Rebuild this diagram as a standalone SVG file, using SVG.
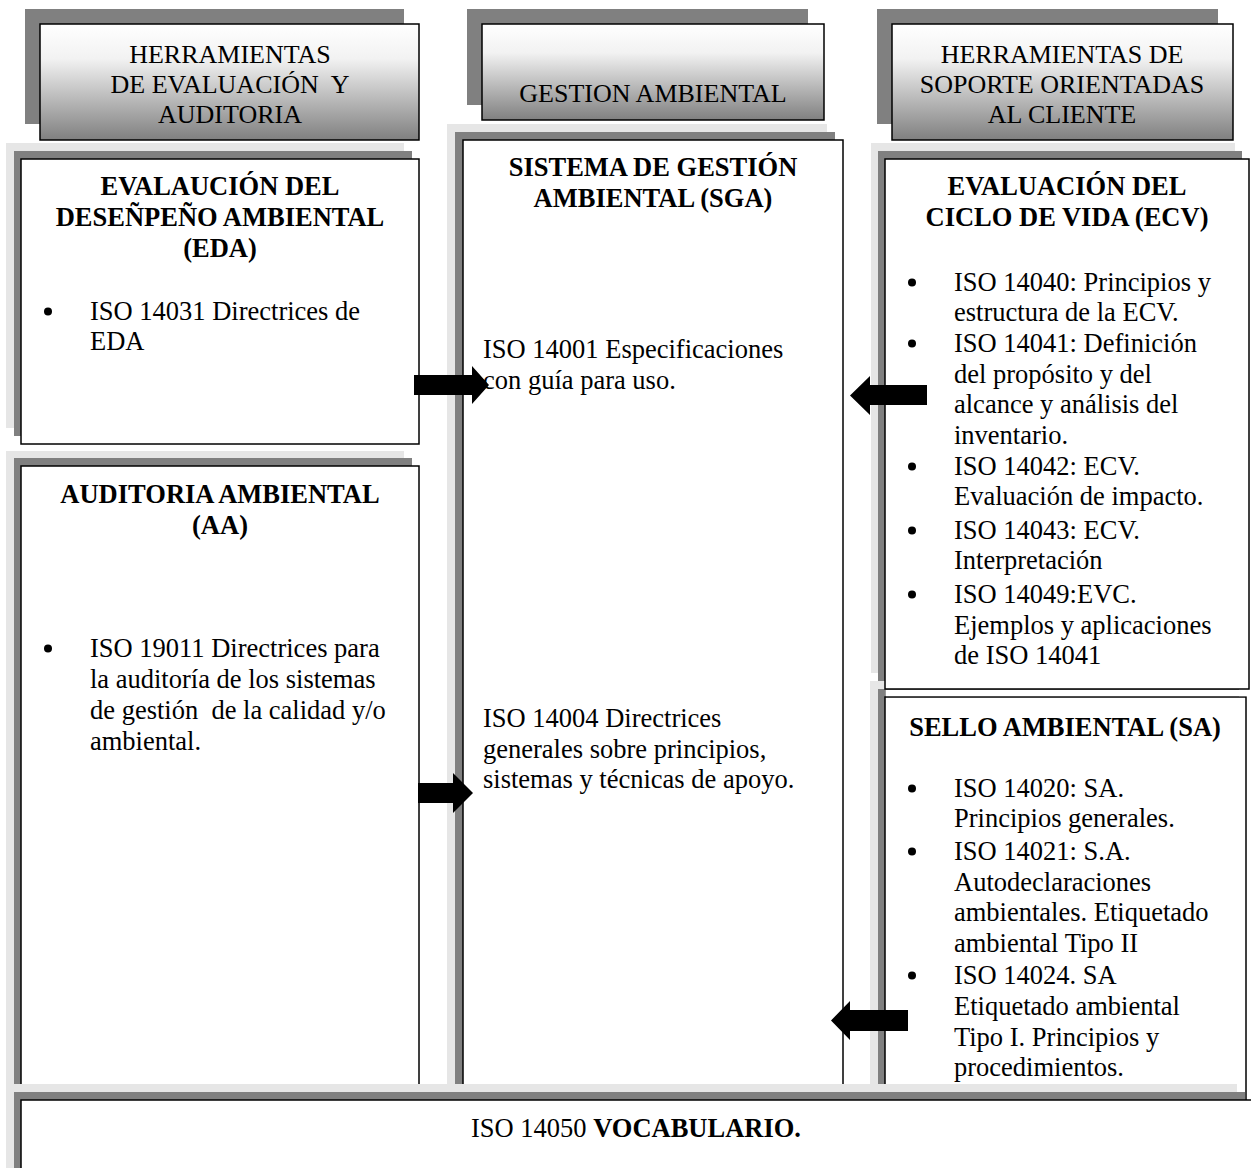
<svg xmlns="http://www.w3.org/2000/svg" width="1251" height="1168" viewBox="0 0 1251 1168">
  <defs>
    <linearGradient id="hdrGrad" x1="0" y1="0" x2="0" y2="1">
      <stop offset="0" stop-color="#ffffff"/>
      <stop offset="0.3" stop-color="#f2f2f2"/>
      <stop offset="1" stop-color="#808080"/>
    </linearGradient>
    <style>
      text { font-family: "Liberation Serif", "Times New Roman", serif; font-size: 26.5px; fill: #000; }
      .hdr text { font-size: 26px; }
      .c { text-anchor: middle; }
      .b { font-weight: bold; }
      .shadowDark { fill: #808080; }
      .shadowLight { fill: #e6e6e6; }
      .box { fill: #ffffff; stroke: #000; stroke-width: 1.5; }
      .hbox { fill: url(#hdrGrad); stroke: #000; stroke-width: 1.5; }
      .dot { fill: #000; }
      .arrow { fill: #000; }
    </style>
  </defs>
  <rect width="1251" height="1168" fill="#ffffff"/>

  <!-- Column headers -->
  <g id="hdr-evaluacion" class="hdr">
    <rect class="shadowDark" x="25" y="9" width="379" height="115"/>
    <rect class="hbox" x="40" y="24" width="379" height="116"/>
    <text class="c" x="230" y="63">HERRAMIENTAS</text>
    <text class="c" x="230" y="93" xml:space="preserve">DE EVALUACIÓN  Y</text>
    <text class="c" x="230" y="123">AUDITORIA</text>
  </g>
  <g id="hdr-gestion" class="hdr">
    <rect class="shadowDark" x="467" y="9" width="341" height="96"/>
    <rect class="hbox" x="482" y="24" width="342" height="96"/>
    <text class="c" x="653" y="102">GESTION AMBIENTAL</text>
  </g>
  <g id="hdr-soporte" class="hdr">
    <rect class="shadowDark" x="877" y="9" width="341" height="115"/>
    <rect class="hbox" x="892" y="24" width="341" height="116"/>
    <text class="c" x="1062" y="63">HERRAMIENTAS DE</text>
    <text class="c" x="1062" y="93">SOPORTE ORIENTADAS</text>
    <text class="c" x="1062" y="123">AL CLIENTE</text>
  </g>

  <!-- Evaluación del desempeño ambiental -->
  <g id="eda">
    <rect class="shadowLight" x="6" y="143" width="398" height="285"/>
    <rect class="shadowDark" x="14" y="151" width="398" height="285"/>
    <rect class="box" x="21" y="159" width="398" height="285"/>
    <text class="c b" x="220" y="195">EVALAUCIÓN DEL</text>
    <text class="c b" x="220" y="226">DESEÑPEÑO AMBIENTAL</text>
    <text class="c b" x="220" y="257">(EDA)</text>
    <circle class="dot" cx="48" cy="311.5" r="4"/>
    <text x="90" y="320">ISO 14031 Directrices de</text>
    <text x="90" y="350">EDA</text>
  </g>

  <!-- Auditoría ambiental -->
  <g id="aa">
    <rect class="shadowLight" x="6" y="451" width="398" height="640"/>
    <rect class="shadowDark" x="14" y="458" width="398" height="640"/>
    <rect class="box" x="21" y="466" width="398" height="640"/>
    <text class="c b" x="220" y="503">AUDITORIA AMBIENTAL</text>
    <text class="c b" x="220" y="534">(AA)</text>
    <circle class="dot" cx="48" cy="648.5" r="4"/>
    <text x="90" y="657">ISO 19011 Directrices para</text>
    <text x="90" y="688">la auditoría de los sistemas</text>
    <text x="90" y="719" xml:space="preserve">de gestión  de la calidad y/o</text>
    <text x="90" y="750">ambiental.</text>
  </g>

  <!-- Sistema de gestión ambiental -->
  <g id="sga">
    <rect class="shadowLight" x="447" y="124" width="380" height="980"/>
    <rect class="shadowDark" x="455" y="132" width="380" height="980"/>
    <rect class="box" x="463" y="140" width="380" height="980"/>
    <text class="c b" x="653" y="176">SISTEMA DE GESTIÓN</text>
    <text class="c b" x="653" y="207">AMBIENTAL (SGA)</text>
    <text x="483" y="358">ISO 14001 Especificaciones</text>
    <text x="483" y="389">con guía para uso.</text>
    <text x="483" y="727">ISO 14004 Directrices</text>
    <text x="483" y="758">generales sobre principios,</text>
    <text x="483" y="788">sistemas y técnicas de apoyo.</text>
  </g>

  <!-- Sello ambiental -->
  <g id="sa">
    <rect class="shadowLight" x="870" y="681" width="361" height="420"/>
    <rect class="shadowDark" x="878" y="689" width="361" height="420"/>
    <rect class="box" x="885" y="697" width="361" height="420"/>
    <text class="c b" x="1065" y="736">SELLO AMBIENTAL (SA)</text>
    <circle class="dot" cx="912" cy="788.5" r="4"/>
    <text x="954" y="797">ISO 14020: SA.</text>
    <text x="954" y="827">Principios generales.</text>
    <circle class="dot" cx="912" cy="851.5" r="4"/>
    <text x="954" y="860">ISO 14021: S.A.</text>
    <text x="954" y="891">Autodeclaraciones</text>
    <text x="954" y="921">ambientales. Etiquetado</text>
    <text x="954" y="952">ambiental Tipo II</text>
    <circle class="dot" cx="912" cy="975.5" r="4"/>
    <text x="954" y="984">ISO 14024. SA</text>
    <text x="954" y="1015">Etiquetado ambiental</text>
    <text x="954" y="1046">Tipo I. Principios y</text>
    <text x="954" y="1076">procedimientos.</text>
  </g>

  <!-- Evaluación del ciclo de vida -->
  <g id="ecv">
    <rect class="shadowLight" x="871" y="143" width="364" height="530"/>
    <rect class="shadowDark" x="878" y="151" width="364" height="530"/>
    <!-- white gap between this box and the seal box below -->
    <rect x="885.8" y="689.8" width="365" height="6.4" fill="#ffffff"/>
    <rect class="box" x="885" y="159" width="364" height="530"/>
    <text class="c b" x="1067" y="195">EVALUACIÓN DEL</text>
    <text class="c b" x="1067" y="226">CICLO DE VIDA (ECV)</text>
    <circle class="dot" cx="912" cy="282.5" r="4"/>
    <text x="954" y="291">ISO 14040: Principios y</text>
    <text x="954" y="321">estructura de la ECV.</text>
    <circle class="dot" cx="912" cy="343.5" r="4"/>
    <text x="954" y="352">ISO 14041: Definición</text>
    <text x="954" y="383">del propósito y del</text>
    <text x="954" y="413">alcance y análisis del</text>
    <text x="954" y="444">inventario.</text>
    <circle class="dot" cx="912" cy="466.5" r="4"/>
    <text x="954" y="475">ISO 14042: ECV.</text>
    <text x="954" y="505">Evaluación de impacto.</text>
    <circle class="dot" cx="912" cy="530.5" r="4"/>
    <text x="954" y="539">ISO 14043: ECV.</text>
    <text x="954" y="569">Interpretación</text>
    <circle class="dot" cx="912" cy="594.5" r="4"/>
    <text x="954" y="603">ISO 14049:EVC.</text>
    <text x="954" y="634">Ejemplos y aplicaciones</text>
    <text x="954" y="664">de ISO 14041</text>
  </g>

  <!-- Vocabulario (spans the full width, overlaps the column bottoms) -->
  <g id="vocabulario">
    <rect class="shadowLight" x="6" y="1084" width="1231" height="100"/>
    <rect class="shadowDark" x="14" y="1092" width="1231" height="100"/>
    <rect class="box" x="21" y="1100" width="1231" height="100"/>
    <text class="c" x="636" y="1137">ISO 14050 <tspan class="b">VOCABULARIO.</tspan></text>
  </g>

  <!-- Block arrows into the management system column -->
  <g id="connectors">
    <polygon class="arrow" points="414,375 472,375 472,366 489,385 472,404 472,395 414,395"/>
    <polygon class="arrow" points="927,385 870,385 870,376 850,395.5 870,415 870,405 927,405"/>
    <polygon class="arrow" points="418,783 453,783 453,773 473,793 453,813 453,803 418,803"/>
    <polygon class="arrow" points="908,1010 850,1010 850,1001 831,1020.5 850,1040 850,1031 908,1031"/>
  </g>
</svg>
